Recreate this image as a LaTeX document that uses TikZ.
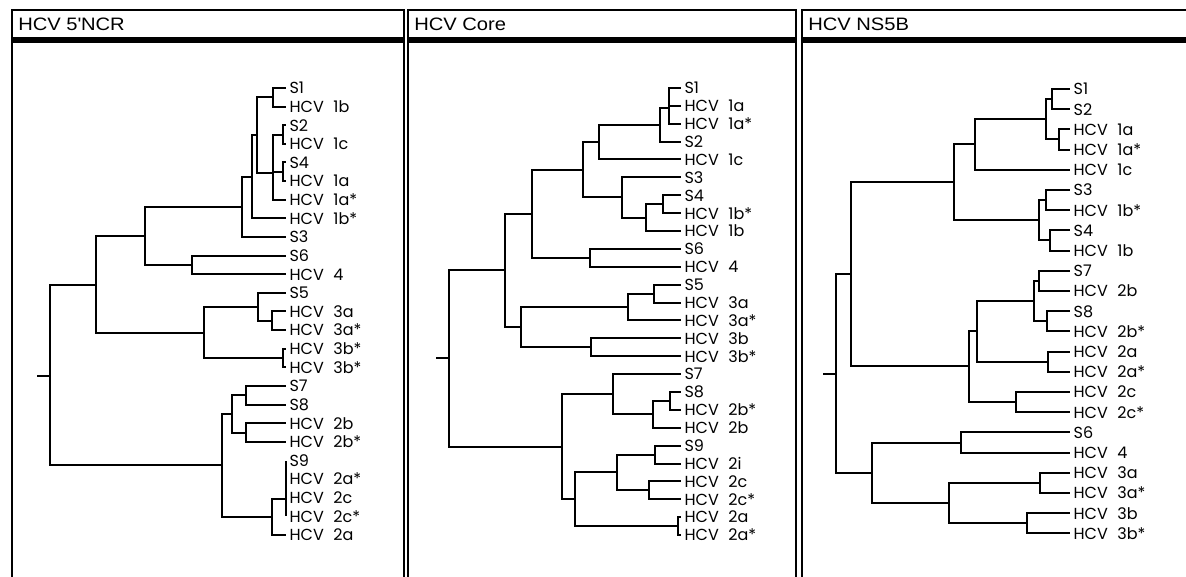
\documentclass[tikz,border=0pt]{standalone}
\usepackage{fontspec}
\setmainfont{Liberation Sans}
\newfontfamily\titlefont[FakeStretch=1.12]{Liberation Sans}
\newfontfamily\leaffont{Poppins}
\usetikzlibrary{positioning}
\tikzset{
  branch/.style={line width=1.5pt, line join=miter}
}
\tikzset{
  leaf/.style={anchor=west, inner sep=2.5pt, text depth=0pt, font=\leaffont\fontsize{12}{14}\selectfont}
}
\tikzset{
  paneltitle/.style={anchor=base west, inner sep=0pt, font=\titlefont\fontsize{13.5}{16}\selectfont},
  frame/.style={line width=1.4pt},
  titlebox/.style={line width=0.9pt}
}
\newcommand{\hcv}[1]{HCV\hspace{0.6em}#1}

\begin{document}
\begin{tikzpicture}[x=0.75pt, y=-0.75pt]
      \useasboundingbox (0,0) rectangle (1186,577);
      % panel frames
      \draw[titlebox] (12,10) rectangle (404,38);
      \fill (12,38) rectangle (404,43);
      \draw[frame] (12,38) -- (12,577);
      \draw[frame] (404,38) -- (404,577);
      \draw[titlebox] (408,10) rectangle (796,38);
      \fill (408,38) rectangle (796,43);
      \draw[frame] (408,38) -- (408,577);
      \draw[frame] (796,38) -- (796,577);
      \draw[titlebox] (802,10) rectangle (1195,38);
      \fill (802,38) rectangle (1195,43);
      \draw[frame] (802,38) -- (802,577);
      \node[paneltitle] (t1) at (18,31) {HCV 5\textquotesingle NCR};
      \node[paneltitle] (t2) at (414,31) {HCV Core};
      \node[paneltitle] (t3) at (808,31) {HCV NS5B};

      % 5'NCR leaves
      \node[leaf] (n1) at (286,88) {S1};
      \node[leaf] (n2) at (286,106.6) {\hcv{1b}};
      \node[leaf] (n3) at (286,125.3) {S2};
      \node[leaf] (n4) at (286,143.9) {\hcv{1c}};
      \node[leaf] (n5) at (286,162.5) {S4};
      \node[leaf] (n6) at (286,181.1) {\hcv{1a}};
      \node[leaf] (n7) at (286,199.8) {\hcv{1a*}};
      \node[leaf] (n8) at (286,218.4) {\hcv{1b*}};
      \node[leaf] (n9) at (286,237) {S3};
      \node[leaf] (n10) at (286,255.6) {S6};
      \node[leaf] (n11) at (286,274.3) {\hcv{4}};
      \node[leaf] (n12) at (286,292.9) {S5};
      \node[leaf] (n13) at (286,311.5) {\hcv{3a}};
      \node[leaf] (n14) at (286,330.1) {\hcv{3a*}};
      \node[leaf] (n15) at (286,348.8) {\hcv{3b*}};
      \node[leaf] (n16) at (286,367.4) {\hcv{3b*}};
      \node[leaf] (n17) at (286,386) {S7};
      \node[leaf] (n18) at (286,404.6) {S8};
      \node[leaf] (n19) at (286,423.3) {\hcv{2b}};
      \node[leaf] (n20) at (286,441.9) {\hcv{2b*}};
      \node[leaf] (n21) at (286,460.5) {S9};
      \node[leaf] (n22) at (286,479.1) {\hcv{2a*}};
      \node[leaf] (n23) at (286,497.8) {\hcv{2c}};
      \node[leaf] (n24) at (286,516.4) {\hcv{2c*}};
      \node[leaf] (n25) at (286,535) {\hcv{2a}};
      % 5'NCR branch points
      \coordinate (nF) at (273,97.3);
      \coordinate (nG1) at (283,134.6);
      \coordinate (nG2) at (283,171.8);
      \coordinate (nG) at (273,173);
      \coordinate (nE) at (257,135);
      \coordinate (nD) at (252,177);
      \coordinate (nC) at (242,207);
      \coordinate (nH) at (192,265);
      \coordinate (nB) at (145,236);
      \coordinate (nL) at (272,321);
      \coordinate (nJ) at (258,307);
      \coordinate (nK) at (283,358);
      \coordinate (nI) at (204,333);
      \coordinate (nA) at (96,285);
      \coordinate (nP) at (246,395.3);
      \coordinate (nQ) at (246,432.6);
      \coordinate (nN) at (232,414);
      \coordinate (nR) at (286,499);
      \coordinate (nO) at (272,517);
      \coordinate (nM) at (222,465);
      \coordinate (nroot) at (50,376);
      \draw[branch] (nF) |- (n1.west) (nF) |- (n2.west);
      \draw[branch] (nG1) |- (n3.west) (nG1) |- (n4.west);
      \draw[branch] (nG2) |- (n5.west) (nG2) |- (n6.west);
      \draw[branch] (nG) |- (nG1) (nG) |- (nG2) (nG) |- (n7.west);
      \draw[branch] (nE) |- (nF) (nE) |- (nG);
      \draw[branch] (nD) |- (nE) (nD) |- (n8.west);
      \draw[branch] (nC) |- (nD) (nC) |- (n9.west);
      \draw[branch] (nH) |- (n10.west) (nH) |- (n11.west);
      \draw[branch] (nB) |- (nC) (nB) |- (nH);
      \draw[branch] (nL) |- (n13.west) (nL) |- (n14.west);
      \draw[branch] (nJ) |- (n12.west) (nJ) |- (nL);
      \draw[branch] (nK) |- (n15.west) (nK) |- (n16.west);
      \draw[branch] (nI) |- (nJ) (nI) |- (nK);
      \draw[branch] (nA) |- (nB) (nA) |- (nI);
      \draw[branch] (nP) |- (n17.west) (nP) |- (n18.west);
      \draw[branch] (nQ) |- (n19.west) (nQ) |- (n20.west);
      \draw[branch] (nN) |- (nP) (nN) |- (nQ);
      \draw[branch] (nR) |- (n21.west) (nR) |- (n22.west) (nR) |- (n23.west) (nR) |- (n24.west);
      \draw[branch] (nO) |- (nR) (nO) |- (n25.west);
      \draw[branch] (nM) |- (nN) (nM) |- (nO);
      \draw[branch] (nroot) |- (nA) (nroot) |- (nM);
      \draw[branch] (nroot) -- ++(-13,0);

      % Core leaves
      \node[leaf] (c1) at (681,88) {S1};
      \node[leaf] (c2) at (681,105.9) {\hcv{1a}};
      \node[leaf] (c3) at (681,123.8) {\hcv{1a*}};
      \node[leaf] (c4) at (681,141.6) {S2};
      \node[leaf] (c5) at (681,159.5) {\hcv{1c}};
      \node[leaf] (c6) at (681,177.4) {S3};
      \node[leaf] (c7) at (681,195.3) {S4};
      \node[leaf] (c8) at (681,213.2) {\hcv{1b*}};
      \node[leaf] (c9) at (681,231) {\hcv{1b}};
      \node[leaf] (c10) at (681,248.9) {S6};
      \node[leaf] (c11) at (681,266.8) {\hcv{4}};
      \node[leaf] (c12) at (681,284.7) {S5};
      \node[leaf] (c13) at (681,302.6) {\hcv{3a}};
      \node[leaf] (c14) at (681,320.4) {\hcv{3a*}};
      \node[leaf] (c15) at (681,338.3) {\hcv{3b}};
      \node[leaf] (c16) at (681,356.2) {\hcv{3b*}};
      \node[leaf] (c17) at (681,374.1) {S7};
      \node[leaf] (c18) at (681,392) {S8};
      \node[leaf] (c19) at (681,409.8) {\hcv{2b*}};
      \node[leaf] (c20) at (681,427.7) {\hcv{2b}};
      \node[leaf] (c21) at (681,445.6) {S9};
      \node[leaf] (c22) at (681,463.5) {\hcv{2i}};
      \node[leaf] (c23) at (681,481.4) {\hcv{2c}};
      \node[leaf] (c24) at (681,499.2) {\hcv{2c*}};
      \node[leaf] (c25) at (681,517.1) {\hcv{2a}};
      \node[leaf] (c26) at (681,535) {\hcv{2a*}};
      % Core branch points
      \coordinate (cE) at (669,108);
      \coordinate (cF) at (660,124.8);
      \coordinate (cG) at (599,142);
      \coordinate (cJ) at (663,204.2);
      \coordinate (cI) at (646,217.6);
      \coordinate (cH) at (622,197.5);
      \coordinate (cD) at (583,170);
      \coordinate (cK) at (590,257.9);
      \coordinate (cB) at (532,214);
      \coordinate (cN) at (654,293.6);
      \coordinate (cL) at (628,307);
      \coordinate (cM) at (591,347.2);
      \coordinate (cC) at (521,327);
      \coordinate (cA) at (505,270.5);
      \coordinate (cS) at (670,401);
      \coordinate (cR) at (653,414.4);
      \coordinate (cP) at (613,394.2);
      \coordinate (cV) at (655,454.5);
      \coordinate (cW) at (649,490.3);
      \coordinate (cT) at (617,472.4);
      \coordinate (cU) at (678,526);
      \coordinate (cQ) at (575,499);
      \coordinate (cO) at (562,446.6);
      \coordinate (croot) at (449,358.5);
      \draw[branch] (cE) |- (c1.west) (cE) |- (c2.west) (cE) |- (c3.west);
      \draw[branch] (cF) |- (cE) (cF) |- (c4.west);
      \draw[branch] (cG) |- (cF) (cG) |- (c5.west);
      \draw[branch] (cJ) |- (c7.west) (cJ) |- (c8.west);
      \draw[branch] (cI) |- (cJ) (cI) |- (c9.west);
      \draw[branch] (cH) |- (c6.west) (cH) |- (cI);
      \draw[branch] (cD) |- (cG) (cD) |- (cH);
      \draw[branch] (cK) |- (c10.west) (cK) |- (c11.west);
      \draw[branch] (cB) |- (cD) (cB) |- (cK);
      \draw[branch] (cN) |- (c12.west) (cN) |- (c13.west);
      \draw[branch] (cL) |- (cN) (cL) |- (c14.west);
      \draw[branch] (cM) |- (c15.west) (cM) |- (c16.west);
      \draw[branch] (cC) |- (cL) (cC) |- (cM);
      \draw[branch] (cA) |- (cB) (cA) |- (cC);
      \draw[branch] (cS) |- (c18.west) (cS) |- (c19.west);
      \draw[branch] (cR) |- (cS) (cR) |- (c20.west);
      \draw[branch] (cP) |- (c17.west) (cP) |- (cR);
      \draw[branch] (cV) |- (c21.west) (cV) |- (c22.west);
      \draw[branch] (cW) |- (c23.west) (cW) |- (c24.west);
      \draw[branch] (cT) |- (cV) (cT) |- (cW);
      \draw[branch] (cU) |- (c25.west) (cU) |- (c26.west);
      \draw[branch] (cQ) |- (cT) (cQ) |- (cU);
      \draw[branch] (cO) |- (cP) (cO) |- (cQ);
      \draw[branch] (croot) |- (cA) (croot) |- (cO);
      \draw[branch] (croot) -- ++(-13,0);

      % NS5B leaves
      \node[leaf] (b1) at (1070,89) {S1};
      \node[leaf] (b2) at (1070,109.2) {S2};
      \node[leaf] (b3) at (1070,129.4) {\hcv{1a}};
      \node[leaf] (b4) at (1070,149.6) {\hcv{1a*}};
      \node[leaf] (b5) at (1070,169.8) {\hcv{1c}};
      \node[leaf] (b6) at (1070,190) {S3};
      \node[leaf] (b7) at (1070,210.2) {\hcv{1b*}};
      \node[leaf] (b8) at (1070,230.4) {S4};
      \node[leaf] (b9) at (1070,250.6) {\hcv{1b}};
      \node[leaf] (b10) at (1070,270.8) {S7};
      \node[leaf] (b11) at (1070,291) {\hcv{2b}};
      \node[leaf] (b12) at (1070,311.2) {S8};
      \node[leaf] (b13) at (1070,331.4) {\hcv{2b*}};
      \node[leaf] (b14) at (1070,351.6) {\hcv{2a}};
      \node[leaf] (b15) at (1070,371.8) {\hcv{2a*}};
      \node[leaf] (b16) at (1070,392) {\hcv{2c}};
      \node[leaf] (b17) at (1070,412.2) {\hcv{2c*}};
      \node[leaf] (b18) at (1070,432.4) {S6};
      \node[leaf] (b19) at (1070,452.6) {\hcv{4}};
      \node[leaf] (b20) at (1070,472.8) {\hcv{3a}};
      \node[leaf] (b21) at (1070,493) {\hcv{3a*}};
      \node[leaf] (b22) at (1070,513.2) {\hcv{3b}};
      \node[leaf] (b23) at (1070,533.4) {\hcv{3b*}};
      % NS5B branch points
      \coordinate (bS) at (1052,99.1);
      \coordinate (bT) at (1059,139.5);
      \coordinate (ba) at (1046,119);
      \coordinate (bb) at (975,144.5);
      \coordinate (bd1) at (1046,200.1);
      \coordinate (bd2) at (1050,240.5);
      \coordinate (bd) at (1039,220);
      \coordinate (bc) at (954,182);
      \coordinate (bi1) at (1039,280.9);
      \coordinate (bi2) at (1047,321.3);
      \coordinate (bi) at (1034,301);
      \coordinate (bj) at (1048,361.7);
      \coordinate (bg) at (977,331);
      \coordinate (bh) at (1016,402.1);
      \coordinate (bf) at (969,366.5);
      \coordinate (be) at (851,274);
      \coordinate (bl) at (961,442.5);
      \coordinate (bn) at (1040,482.9);
      \coordinate (bo) at (1027,523.3);
      \coordinate (bm) at (949,503);
      \coordinate (bk) at (872,473);
      \coordinate (broot) at (836,374);
      \draw[branch] (bS) |- (b1.west) (bS) |- (b2.west);
      \draw[branch] (bT) |- (b3.west) (bT) |- (b4.west);
      \draw[branch] (ba) |- (bS) (ba) |- (bT);
      \draw[branch] (bb) |- (ba) (bb) |- (b5.west);
      \draw[branch] (bd1) |- (b6.west) (bd1) |- (b7.west);
      \draw[branch] (bd2) |- (b8.west) (bd2) |- (b9.west);
      \draw[branch] (bd) |- (bd1) (bd) |- (bd2);
      \draw[branch] (bc) |- (bb) (bc) |- (bd);
      \draw[branch] (bi1) |- (b10.west) (bi1) |- (b11.west);
      \draw[branch] (bi2) |- (b12.west) (bi2) |- (b13.west);
      \draw[branch] (bi) |- (bi1) (bi) |- (bi2);
      \draw[branch] (bj) |- (b14.west) (bj) |- (b15.west);
      \draw[branch] (bg) |- (bi) (bg) |- (bj);
      \draw[branch] (bh) |- (b16.west) (bh) |- (b17.west);
      \draw[branch] (bf) |- (bg) (bf) |- (bh);
      \draw[branch] (be) |- (bc) (be) |- (bf);
      \draw[branch] (bl) |- (b18.west) (bl) |- (b19.west);
      \draw[branch] (bn) |- (b20.west) (bn) |- (b21.west);
      \draw[branch] (bo) |- (b22.west) (bo) |- (b23.west);
      \draw[branch] (bm) |- (bn) (bm) |- (bo);
      \draw[branch] (bk) |- (bl) (bk) |- (bm);
      \draw[branch] (broot) |- (be) (broot) |- (bk);
      \draw[branch] (broot) -- ++(-13,0);
    \end{tikzpicture}
\end{document}
